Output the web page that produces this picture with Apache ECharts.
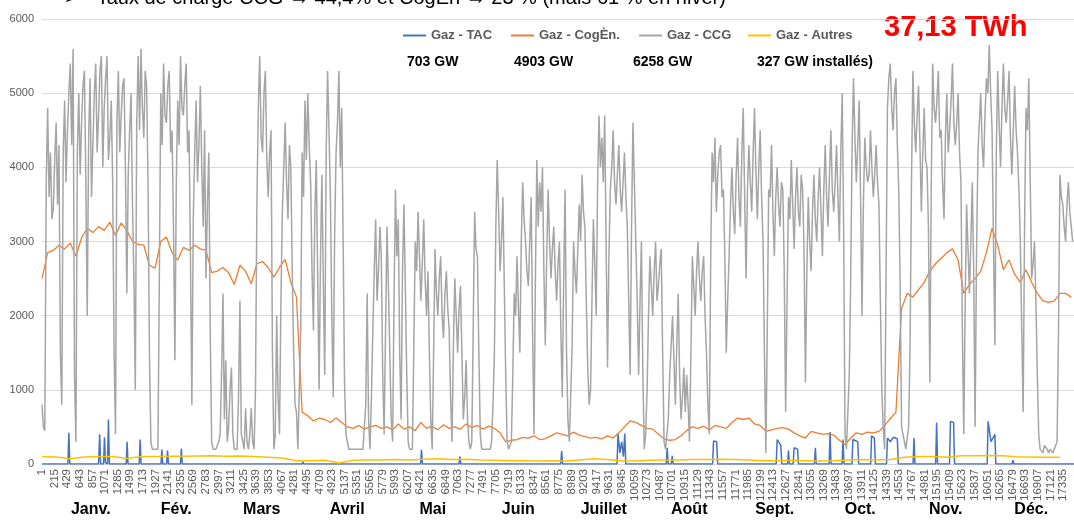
<!DOCTYPE html>
<html>
<head>
<meta charset="utf-8">
<script src="https://cdn.jsdelivr.net/npm/echarts@6/dist/echarts.min.js"></script>
<style>
  html, body { margin: 0; padding: 0; background: #fff; }
  #chart { width: 1074px; height: 520px; }
</style>
</head>
<body>
<div id="chart"></div>
<script>
// pas de temps demi-horaire : 17520 valeurs sur l'année
const steps = Array.from({ length: 17520 }, (_, i) => String(i + 1))
const months = ['Janv.', 'Fév.', 'Mars', 'Avril', 'Mai', 'Juin', 'Juillet', 'Août', 'Sept.', 'Oct.', 'Nov.', 'Déc.']

// Gaz - CCG (MW) : un relevé de jour et un de nuit par journée (48 pas)
const dayStep = 48
const ccgDay = [
  800, 450, 4800, 4200, 3450, 4600, 4300, 800, 4900, 4500,
  5400, 5600, 300, 5000, 4600, 5300, 2000, 5200, 4300, 5400,
  4700, 5500, 4800, 5500, 4400, 3800, 400, 5300, 4700, 5200,
  2300, 4500, 3500, 1000, 5500, 5600, 4400, 5100, 1500, 200,
  200, 200, 5000, 5400, 4600, 5300, 4500, 1400, 4900, 5500,
  4700, 5400, 4500, 800, 4200, 3800, 5100, 3200, 2500, 4200,
  300, 200, 200, 400, 2300, 1400, 500, 1300, 200, 200,
  2200, 300, 750, 200, 750, 200, 3500, 5500, 4200, 5300,
  3600, 4500, 200, 2000, 400, 3400, 4600, 3300, 4000, 1500,
  700, 200, 4200, 4900, 5000, 3800, 1800, 4100, 1000, 3900,
  1200, 5300, 3600, 900, 4200, 5300, 4800, 1100, 300, 200,
  200, 200, 200, 200, 200, 2300, 200, 1800, 3300, 2600,
  2800, 400, 3200, 1500, 300, 3700, 3300, 600, 3500, 1200,
  200, 200, 3000, 3400, 2200, 3300, 2000, 1500, 200, 2900,
  2000, 2800, 1700, 2600, 1800, 300, 2500, 1500, 2400, 600,
  1400, 300, 300, 3400, 2800, 400, 200, 200, 200, 300,
  1500, 4100, 2600, 3600, 1200, 200, 300, 2300, 2800, 1500,
  3800, 3000, 2400, 3600, 400, 4100, 3800, 4000, 1600, 3700,
  2500, 3200, 2200, 3000, 900, 3700, 600, 300, 3000, 2300,
  3500, 3900, 3200, 1300, 1000, 3300, 2000, 4700, 4400, 4700,
  1300, 3700, 4500, 3500, 4300, 3400, 4200, 3200, 1200, 4600,
  3000, 1200, 3000, 200, 1000, 2800, 2000, 3000, 2400, 2900,
  300, 200, 1200, 2000, 800, 2300, 600, 1300, 1200, 300,
  2800, 2000, 3000, 2200, 2800, 1500, 400, 4200, 4400, 3900,
  4300, 3700, 1500, 2800, 4000, 3100, 4400, 3200, 4800, 2500,
  4300, 3400, 4800, 3300, 4500, 3000, 150, 3700, 4300, 2800,
  4000, 3200, 3700, 700, 3600, 4100, 2900, 4000, 3200, 3700,
  1100, 3600, 2600, 3900, 3000, 4000, 2800, 4300, 3200, 4500,
  3400, 4300, 3000, 5000, 400, 200, 2500, 5200, 3800, 4900,
  2000, 4400, 3800, 4500, 3600, 4300, 3500, 1000, 200, 4800,
  5400, 4500, 5200, 3700, 500, 300, 200, 1600, 5300, 4200,
  5100, 3400, 4800, 4000, 1100, 5400, 4600, 5300, 4500, 3300,
  5000, 4500, 5400, 4300, 5000, 3800, 400, 3500, 2300, 3800,
  500, 4200, 5000, 4000, 5200, 5650, 4500, 1600, 5300, 4000,
  5400, 4600, 5300, 3900, 5100, 4200, 3000, 700, 4800, 5200,
  2500, 3000, 1200, 200, 150, 250, 150, 200, 150, 300,
  3900, 3500, 3000, 3800, 3200
]
const ccgNight = [
  500, 3800, 3600, 3300, 4100, 3500, 1500, 4200, 3800, 5000,
  4300, 1200, 4200, 3900, 5100, 3800, 4400, 3600, 5000, 4200,
  5300, 4000, 5200, 4100, 4900, 1500, 4600, 4200, 5100, 4000,
  3900, 5000, 2500, 4600, 4500, 4800, 5300, 3800, 300, 200,
  200, 2500, 4300, 4700, 5100, 4200, 3200, 3800, 4300, 4800,
  5100, 4200, 2800, 3300, 4900, 4300, 4000, 4500, 3500, 1800,
  200, 200, 300, 1200, 600, 300, 1000, 400, 200, 900,
  400, 200, 300, 400, 300, 1000, 4800, 4400, 5000, 4100,
  4200, 1500, 400, 900, 2200, 4000, 3800, 4300, 2600, 800,
  200, 1800, 3600, 4100, 4300, 2600, 3400, 2500, 2800, 2400,
  4200, 4500, 2000, 3100, 4600, 4000, 3000, 400, 200, 200,
  200, 200, 200, 200, 800, 600, 900, 2600, 2200, 3200,
  1200, 1800, 2400, 600, 2200, 2800, 1500, 2600, 2400, 300,
  200, 1600, 2600, 2800, 2700, 2500, 2600, 600, 1500, 2300,
  2500, 2000, 2300, 2100, 900, 1600, 2000, 2100, 1500, 900,
  600, 200, 1800, 2900, 1500, 200, 200, 200, 200, 800,
  3200, 3400, 3000, 2400, 300, 200, 1200, 2000, 2100, 3000,
  3300, 2600, 3000, 1800, 2500, 3200, 3400, 2600, 2800, 3000,
  2900, 2600, 2700, 1800, 2500, 1500, 300, 1600, 2600, 2900,
  3000, 3400, 2200, 800, 2200, 2700, 3800, 4000, 3800, 3000,
  2800, 4000, 3800, 3900, 3700, 3800, 3600, 2200, 3200, 3800,
  2200, 2200, 1200, 400, 2000, 2400, 2600, 2200, 2700, 1500,
  200, 600, 1600, 1400, 1600, 1200, 900, 700, 800, 1500,
  2400, 2600, 2500, 2600, 2000, 800, 2800, 3800, 3400, 4200,
  3600, 2800, 2200, 3500, 3400, 3900, 3600, 4200, 3600, 3700,
  3800, 4200, 3900, 4000, 3600, 1500, 1800, 3600, 3400, 3600,
  3500, 3800, 2600, 2200, 3300, 3500, 3600, 3400, 3900, 2900,
  2600, 3000, 3400, 3300, 3600, 3400, 3700, 3600, 3900, 3700,
  3800, 3600, 4200, 3200, 200, 1200, 4300, 4400, 4300, 3600,
  3500, 4000, 3900, 4000, 3900, 3800, 2200, 500, 2500, 5200,
  4800, 5000, 4300, 2400, 400, 200, 500, 3800, 4600, 4700,
  4300, 4200, 4100, 3200, 3800, 4800, 4900, 4400, 3800, 4400,
  4200, 4900, 4600, 4600, 4200, 1800, 2200, 2900, 3000, 2600,
  2800, 4600, 4300, 4700, 5000, 5000, 3000, 4200, 4600, 4800,
  4800, 4900, 4400, 4500, 4500, 3700, 1800, 3200, 4500, 3800,
  2700, 2200, 400, 200, 250, 200, 200, 150, 250, 1800,
  3600, 3200, 3500, 3400, 3000
]

// Gaz - CogÈn. (MW), un relevé toutes les 96 pas
const cogStep = 96
const cogen = [
  2500, 2850, 2880, 2950, 2900, 2980, 2800, 3050, 3180, 3120,
  3200, 3150, 3260, 3080, 3250, 3150, 3000, 2960, 2950, 2680,
  2640, 3000, 3060, 2850, 2750, 2920, 2880, 2950, 2900, 2880,
  2580, 2600, 2650, 2580, 2420, 2680, 2600, 2430, 2700, 2730,
  2650, 2520, 2650, 2760, 2450, 2250, 700, 650, 580, 620,
  600, 560, 620, 560, 500, 480, 520, 470, 500, 520,
  480, 500, 460, 540, 470, 500, 450, 560, 480, 510,
  460, 530, 480, 500, 470, 540, 490, 520, 470, 510,
  480, 420, 300, 320, 330, 360, 350, 380, 330, 340,
  380, 420, 400, 380, 430, 390, 370, 350, 360, 340,
  380, 350, 420, 500, 580, 560, 520, 480, 470, 400,
  340, 320, 330, 380, 450, 500, 480, 510, 460, 520,
  500, 480, 560, 620, 600, 620, 540, 520, 440, 460,
  480, 490, 470, 420, 380, 350, 440, 420, 400, 410,
  390, 320, 260, 350, 420, 400, 430, 420, 440, 520,
  610, 700, 2100, 2300, 2250, 2350, 2450, 2600, 2700, 2770,
  2850, 2900, 2750, 2300, 2420, 2500, 2600, 2850, 3180, 2950,
  2620, 2750, 2560, 2450, 2620, 2450, 2300, 2200, 2180, 2200,
  2300, 2300, 2250
]

// Gaz - Autres (MW), un relevé toutes les 240 pas
const autStep = 240
const autres = [
  100, 95, 70, 95, 100, 100, 75, 100, 100, 105,
  105, 108, 110, 105, 108, 100, 90, 80, 45, 45,
  50, 15, 50, 55, 55, 60, 55, 65, 70, 60,
  65, 55, 50, 45, 45, 40, 45, 40, 55, 70,
  60, 40, 40, 50, 55, 55, 60, 60, 65, 60,
  55, 45, 45, 50, 45, 40, 45, 55, 60, 55,
  60, 90, 100, 100, 90, 110, 112, 115, 110, 95,
  95, 90, 90
]

// Gaz - TAC (MW) : [pas, valeur], nul hors des pointes
const tac = [
  [0, 0], [440, 0], [456, 420], [472, 0], [960, 0], [979, 400], [995, 0],
  [1045, 0], [1061, 360], [1077, 20], [1112, 0], [1128, 600], [1144, 0],
  [1430, 0], [1445, 300], [1460, 0], [1650, 0], [1666, 330], [1682, 0],
  [2020, 0], [2035, 195], [2050, 0], [2115, 0], [2131, 180], [2147, 0],
  [2350, 0], [2366, 210], [2382, 0], [4414, 0], [4430, 30], [4446, 0],
  [6426, 0], [6442, 190], [6458, 0], [7078, 0], [7094, 100], [7110, 0],
  [8806, 0], [8822, 175], [8838, 0],
  [9762, 0], [9778, 410], [9810, 150], [9840, 300], [9870, 100], [9893, 410], [9910, 0],
  [10597, 0], [10613, 220], [10629, 0], [10683, 0], [10699, 110], [10715, 0],
  [11384, 0], [11400, 310], [11453, 300], [11470, 0],
  [12464, 0], [12480, 330], [12542, 250], [12558, 0], [12656, 0], [12672, 180], [12688, 0],
  [12752, 0], [12768, 220], [12826, 200], [12842, 0], [13112, 0], [13128, 220], [13144, 0],
  [13362, 0], [13378, 430], [13394, 0], [13582, 0], [13598, 330], [13614, 0],
  [13750, 0], [13766, 330], [13848, 300], [13864, 0], [14067, 0], [14083, 380], [14131, 350], [14147, 0],
  [14336, 0], [14352, 350], [14400, 300], [14450, 360], [14520, 340], [14536, 0],
  [14787, 0], [14803, 350], [14819, 0], [15171, 0], [15187, 560], [15203, 0],
  [15406, 0], [15422, 575], [15475, 560], [15491, 0],
  [16045, 0], [16061, 575], [16110, 300], [16176, 400], [16192, 0],
  [16467, 0], [16483, 50], [16499, 0], [17519, 0]
]

const capacities = ['703 GW', '4903 GW', '6258 GW', '327 GW installés)']

const FONT = 'Liberation Sans'

// jour puis nuit pour chaque journée
const ccgData = []
ccgDay.forEach((v, d) => {
  ccgData.push([d * dayStep, v])
  ccgData.push([d * dayStep + dayStep / 2, ccgNight[d]])
})

function lineSerie(name, data, color, width) {
  return {
    name: name,
    type: 'line',
    xAxisIndex: 0,
    yAxisIndex: 0,
    data: data,
    symbol: 'none',
    showSymbol: false,
    lineStyle: { color: color, width: width },
    itemStyle: { color: color },
    emphasis: { disabled: true }
  }
}

function legendItem(name, left) {
  return {
    data: [name],
    left: left,
    top: 24,
    icon: 'rect',
    itemWidth: 23,
    itemHeight: 2,
    selectedMode: false,
    textStyle: { color: '#595959', fontSize: 13, fontWeight: 'bold', fontFamily: FONT }
  }
}

const myCharts = echarts.init(document.getElementById('chart'), null, { renderer: 'canvas' })

const option = {
  animation: false,
  backgroundColor: '#fff',
  textStyle: { fontFamily: FONT },
  grid: [
    { left: 42, top: 19, width: 1045, height: 445 },
    { left: 48, top: 494, width: 1026, height: 2 }
  ],
  legend: [
    legendItem('Gaz - TAC', 398),
    legendItem('Gaz - CogÈn.', 506),
    legendItem('Gaz - CCG', 634),
    legendItem('Gaz - Autres', 743)
  ],
  xAxis: [
    {
      type: 'category',
      gridIndex: 0,
      data: steps,
      boundaryGap: false,
      axisLine: { lineStyle: { color: '#d9d9d9' } },
      axisTick: { show: false },
      axisLabel: { interval: 213, rotate: 90, fontSize: 11.5, color: '#595959', margin: 5 }
    },
    {
      type: 'category',
      gridIndex: 1,
      data: months,
      boundaryGap: true,
      axisLine: { show: false },
      axisTick: { show: false },
      axisLabel: { interval: 0, margin: 6, fontSize: 16, fontWeight: 'bold', color: '#000' }
    }
  ],
  yAxis: [
    {
      type: 'value',
      gridIndex: 0,
      min: 0,
      max: 6000,
      interval: 1000,
      axisLine: { show: false },
      axisTick: { show: false },
      axisLabel: { fontSize: 11, color: '#595959', margin: 8, formatter: v => String(v) },
      splitLine: { lineStyle: { color: '#d9d9d9' } }
    },
    { type: 'value', gridIndex: 1, show: false }
  ],
  graphic: [
    {
      type: 'text', x: 63, y: -2,
      style: { text: '➢   Taux de charge CCG → 44,4% et CogEn → 23 % (mais 61 % en hiver)', font: '20px ' + FONT, fill: '#000', verticalAlign: 'middle' }
    },
    { type: 'text', x: 407, y: 62, style: { text: capacities[0], font: 'bold 14px ' + FONT, fill: '#000', verticalAlign: 'middle' } },
    { type: 'text', x: 514, y: 62, style: { text: capacities[1], font: 'bold 14px ' + FONT, fill: '#000', verticalAlign: 'middle' } },
    { type: 'text', x: 633, y: 62, style: { text: capacities[2], font: 'bold 14px ' + FONT, fill: '#000', verticalAlign: 'middle' } },
    { type: 'text', x: 757, y: 62, style: { text: capacities[3], font: 'bold 14px ' + FONT, fill: '#000', verticalAlign: 'middle' } },
    { type: 'text', x: 884, y: 28, style: { text: '37,13 TWh', font: 'bold 29px ' + FONT, fill: '#ff0000', verticalAlign: 'middle' } }
  ],
  series: [
    lineSerie('Gaz - TAC', tac, '#4472c4', 1.5),
    lineSerie('Gaz - CogÈn.', cogen.map((v, i) => [i * cogStep, v]), '#ed7d31', 1.3),
    lineSerie('Gaz - CCG', ccgData, '#a5a5a5', 1.5),
    lineSerie('Gaz - Autres', autres.map((v, i) => [i * autStep, v]), '#ffc000', 1.5)
  ]
}

myCharts.setOption(option)
window.addEventListener('resize', myCharts.resize)
</script>
</body>
</html>
